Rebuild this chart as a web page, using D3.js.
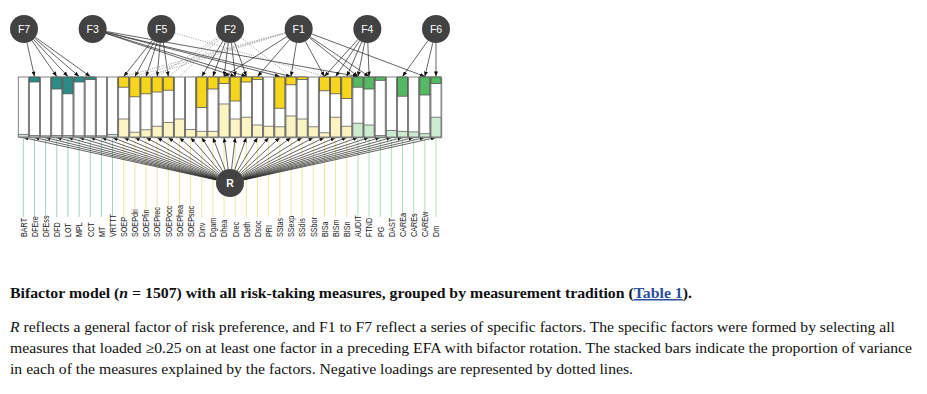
<!DOCTYPE html>
<html>
<head>
<meta charset="utf-8">
<title>Bifactor model</title>
<style>
body, html { margin: 0; padding: 0; background: #fff; }
#chart { width: 927px; height: 394px; }
.lbl { font-family: 'Liberation Sans', Arial, sans-serif; font-size: 9px; fill: #222; }
.fac text { font-family: 'Liberation Sans', Arial, sans-serif; font-size: 10.5px; fill: #fff; }
.cap { font-family: 'Liberation Serif', 'Times New Roman', serif; font-size: 15px; fill: #111; }
</style>
<script src="https://d3js.org/d3.v7.min.js"></script>
</head>
<body>
<div id="chart"></div>
<script>
// measures, in plotting order
var measures = ["BART","DFEre","DFEss","DFD","LOT","MPL","CCT","MT","VRTTT",
  "SOEP","SOEPdri","SOEPfin","SOEPrec","SOEPocc","SOEPhea","SOEPsoc",
  "Dinv","Dgam","Dhea","Drec","Deth","Dsoc","PRI","SStas","SSexp","SSdis","SSbor",
  "BISa","BISm","BISn","AUDIT","FTND","PG","DAST","CAREa","CAREs","CAREw","Dm"];

// measurement tradition of each measure
var tradition = ["beh","beh","beh","beh","beh","beh","beh","beh","beh",
  "pro","pro","pro","pro","pro","pro","pro",
  "pro","pro","pro","pro","pro","pro","pro","pro","pro","pro","pro",
  "pro","pro","pro","fre","fre","fre","fre","fre","fre","fre","fre"];

// proportion of variance explained by the specific factor (top of bar)
var specificVar = [0, 0.083, 0, 0.20, 0.28, 0.083, 0.04, 0, 0,
  0.17, 0.33, 0.28, 0.25, 0.22, 0, 0,
  0.51, 0.20, 0.11, 0.40, 0.083, 0.04, 0, 0.52, 0.13, 0.04, 0,
  0.23, 0.28, 0.36, 0.17, 0.20, 0.055, 0, 0.32, 0, 0.30, 0.11];

// proportion of variance explained by R (bottom of bar)
var generalVar = [0.045, 0.025, 0.02, 0.025, 0.025, 0.02, 0.02, 0.02, 0.04,
  0.30, 0.08, 0.12, 0.18, 0.24, 0.30, 0.125,
  0.095, 0.095, 0.55, 0.30, 0.33, 0.20, 0.18, 0.17, 0.35, 0.30, 0.17,
  0.07, 0.33, 0.18, 0.23, 0.20, 0.025, 0.11, 0.095, 0.085, 0.055, 0.33];

var factors = ["F7","F3","F5","F2","F1","F4","F6"];

// loadings of each specific factor (neg = negative loading, dotted)
var loadF7 = [["DFEre"],["DFD"],["LOT"],["MPL"],["CCT"]];
var loadF3 = [["Drec"],["Deth"],["SStas"],["SSexp"],["AUDIT"]];
var loadF5 = [["SOEP"],["SOEPdri"],["SOEPfin"],["SOEPrec"],["SOEPocc"],["BISa","neg"]];
var loadF2 = [["SOEPrec","neg"],["SOEPocc","neg"],["SOEPhea","neg"],["Dinv"],["Dgam"],["Dhea"],["Drec"],["Deth"],["SSexp","neg"]];
var loadF1 = [["SOEP","neg"],["SOEPdri","neg"],["SOEPfin","neg"],["Dhea"],["Dsoc"],["SSexp"],["BISa"],["AUDIT"],["FTND"],["CAREw"]];
var loadF4 = [["BISa"],["BISm"],["BISn"],["AUDIT"],["FTND"]];
var loadF6 = [["CAREa"],["CAREw"],["Dm"]];

var captionTitle = ["Bifactor model (", "n", " = 1507) with all risk-taking measures, grouped by measurement tradition (", "Table 1", ")."];
var captionLines = [
  [["R", true], [" reflects a general factor of risk preference, and F1 to F7 reflect a series of specific factors. The specific factors were formed by selecting all", false]],
  [["measures that loaded \u22650.25 on at least one factor in a preceding EFA with bifactor rotation. The stacked bars indicate the proportion of variance", false]],
  [["in each of the measures explained by the factors. Negative loadings are represented by dotted lines.", false]]
];

var colDark = { beh: "#2a8c84", pro: "#f6d61c", fre: "#55b964" };
var colLight = { beh: "#cfe0dc", pro: "#fcf3c2", fre: "#cdebd0" };
var colLine = { beh: "#a6cfc9", pro: "#eee6a2", fre: "#b2dfb7" };

var W = 927, H = 394;
var svg = d3.select("#chart").append("svg")
  .attr("width", W).attr("height", H);

var defs = svg.append("defs");
defs.append("marker")
  .attr("id", "arr")
  .attr("viewBox", "0 0 10 8")
  .attr("refX", 10).attr("refY", 4)
  .attr("markerWidth", 5).attr("markerHeight", 4)
  .attr("markerUnits", "userSpaceOnUse")
  .attr("orient", "auto")
  .append("path").attr("d", "M0,0L10,4L0,8z").attr("fill", "#111");

var x = d3.scaleBand().domain(measures).range([18.3, 441]).paddingInner(0.1).paddingOuter(0);
var y = d3.scaleLinear().domain([0, 1]).range([137, 77]);
var fx = d3.scalePoint().domain(factors).range([24, 436]);
var fy = 29, rad = 14;
var R = { x: 230, y: 183 };

var rows = measures.map(function(m, i) {
  return { m: m, t: tradition[i], s: specificVar[i], g: generalVar[i] };
});
var cx = function(m) { return x(m) + x.bandwidth() / 2; };

// vertical coloured guide lines
svg.append("g").selectAll("line")
  .data(rows).enter().append("line")
  .attr("x1", function(d) { return cx(d.m); })
  .attr("x2", function(d) { return cx(d.m); })
  .attr("y1", y(0)).attr("y2", 217)
  .attr("stroke", function(d) { return colLine[d.t]; })
  .attr("stroke-width", 1);

// R arrows
svg.append("g").selectAll("line")
  .data(rows).enter().append("line")
  .each(function(d) {
    var dx = cx(d.m) - R.x, dy = y(0) - R.y, len = Math.sqrt(dx * dx + dy * dy);
    d3.select(this)
      .attr("x1", R.x + dx / len * rad).attr("y1", R.y + dy / len * rad)
      .attr("x2", cx(d.m)).attr("y2", y(0) + 0.5);
  })
  .attr("stroke", "#222").attr("stroke-width", 0.7)
  .attr("marker-end", "url(#arr)");

// factor arrows
var loads = { F7: loadF7, F3: loadF3, F5: loadF5, F2: loadF2, F1: loadF1, F4: loadF4, F6: loadF6 };
var edges = [];
factors.forEach(function(f) {
  loads[f].forEach(function(l) { edges.push({ f: f, m: l[0], neg: l[1] === "neg" }); });
});
svg.append("g").selectAll("line")
  .data(edges).enter().append("line")
  .each(function(d) {
    var x0 = fx(d.f), dx = cx(d.m) - x0, dy = y(1) - fy, len = Math.sqrt(dx * dx + dy * dy);
    d3.select(this)
      .attr("x1", x0 + dx / len * rad).attr("y1", fy + dy / len * rad)
      .attr("x2", cx(d.m)).attr("y2", y(1) - 0.5);
  })
  .attr("stroke", function(d) { return d.neg ? "#888" : "#222"; })
  .attr("stroke-width", 0.7)
  .attr("stroke-dasharray", function(d) { return d.neg ? "1.2,1.2" : null; })
  .attr("marker-end", function(d) { return d.neg ? null : "url(#arr)"; });

// bars
var bars = svg.append("g").selectAll("g")
  .data(rows).enter().append("g");
bars.append("rect")
  .attr("x", function(d) { return x(d.m) + 1.3; })
  .attr("y", y(1) + 1.3)
  .attr("width", x.bandwidth()).attr("height", y(0) - y(1))
  .attr("fill", "#a8a8a8");
bars.append("rect")
  .attr("x", function(d) { return x(d.m); })
  .attr("y", y(1))
  .attr("width", x.bandwidth()).attr("height", y(0) - y(1))
  .attr("fill", "#fff").attr("stroke", "#666").attr("stroke-width", 0.8);
bars.filter(function(d) { return d.g > 0; }).append("rect")
  .attr("x", function(d) { return x(d.m); })
  .attr("y", function(d) { return y(d.g); })
  .attr("width", x.bandwidth())
  .attr("height", function(d) { return y(0) - y(d.g); })
  .attr("fill", function(d) { return colLight[d.t]; })
  .attr("stroke", "#666").attr("stroke-width", 0.8);
bars.filter(function(d) { return d.s > 0; }).append("rect")
  .attr("x", function(d) { return x(d.m); })
  .attr("y", y(1))
  .attr("width", x.bandwidth())
  .attr("height", function(d) { return y(0) - y(d.s); })
  .attr("fill", function(d) { return colDark[d.t]; })
  .attr("stroke", "#555").attr("stroke-width", 0.8);

// measure labels
svg.append("g").selectAll("text")
  .data(rows).enter().append("text")
  .attr("class", "lbl")
  .attr("transform", function(d) { return "translate(" + (cx(d.m) + 3.3) + ",237) rotate(-90) scale(0.8,1)"; })
  .text(function(d) { return d.m; });

// factor circles
var fac = svg.append("g").attr("class", "fac").selectAll("g")
  .data(factors.map(function(f) { return { name: f, x: fx(f), y: fy }; }).concat([{ name: "R", x: R.x, y: R.y }]))
  .enter().append("g")
  .attr("transform", function(d) { return "translate(" + d.x + "," + d.y + ")"; });
fac.append("circle").attr("r", rad).attr("fill", "#424242");
fac.append("text")
  .attr("text-anchor", "middle").attr("dy", "0.36em")
  .style("font-weight", function(d) { return d.name === "R" ? "bold" : null; })
  .text(function(d) { return d.name; });

// caption
var t0 = svg.append("text").attr("class", "cap")
  .attr("x", 10).attr("y", 298)
  .attr("textLength", 682).attr("lengthAdjust", "spacingAndGlyphs")
  .style("font-weight", "bold");
captionTitle.forEach(function(s, i) {
  var ts = t0.append("tspan").text(s);
  if (i === 1) ts.style("font-style", "italic");
  if (i === 3) ts.attr("fill", "#2a4f9a").style("text-decoration", "underline");
});
var capW = [885, 902, 623];
captionLines.forEach(function(parts, k) {
  var t = svg.append("text").attr("class", "cap")
    .attr("x", 10).attr("y", 332 + k * 21)
    .attr("textLength", capW[k]).attr("lengthAdjust", "spacingAndGlyphs");
  parts.forEach(function(p) {
    var ts = t.append("tspan").text(p[0]);
    if (p[1]) ts.style("font-style", "italic");
  });
});
</script>
</body>
</html>
